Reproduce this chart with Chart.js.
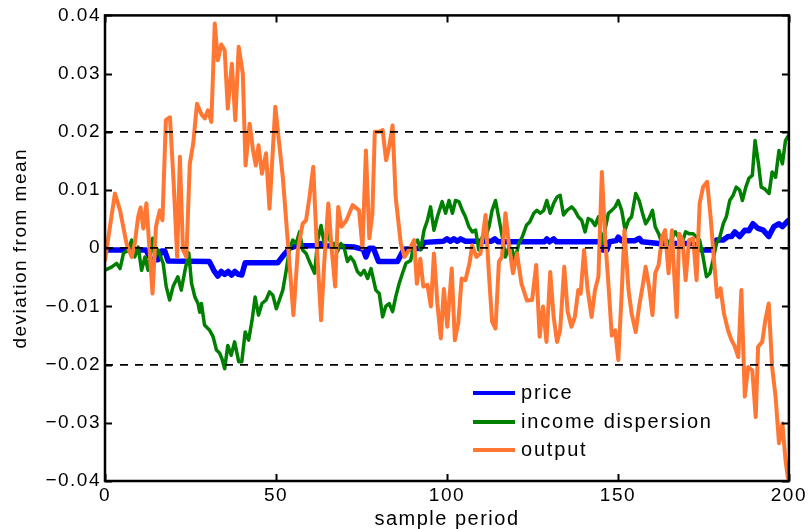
<!DOCTYPE html>
<html>
<head>
<meta charset="utf-8">
<script src="https://cdn.jsdelivr.net/npm/chart.js@4.4.1/dist/chart.umd.min.js"></script>
<style>
  html, body { margin: 0; padding: 0; background: #fff; }
</style>
</head>
<body>
<canvas id="myChart" width="810" height="529"></canvas>
<script>
'use strict';

// ************ data ************

let priceX = [0, 12, 13.5, 15.5, 16.5, 17.5, 18.5, 30.5, 32, 33, 34, 35, 36, 37, 38, 39, 40, 41, 50.5, 52.5, 54, 56, 62, 63, 64, 73, 75.5, 76.3, 77.3, 78.5, 80, 85.5, 87.4, 92.3, 93.4, 99, 100, 101, 102, 103, 104, 105.4, 113, 114, 115, 128.5, 129.2, 130, 131.2, 132, 145, 145.5, 146.8, 147.5, 149.5, 150.1, 151, 155, 156.2, 157, 162, 172, 174.4, 177.8, 178.8, 180.8, 182.2, 183.2, 184.2, 185.6, 187.1, 188.3, 189.5, 191, 192.5, 194.1, 195.6, 197.1, 198.1, 199.7];
let priceY = [-0.0003, -0.0003, -0.002, -0.002, -0.0005, -0.0005, -0.0022, -0.0023, -0.004, -0.0048, -0.004, -0.0045, -0.004, -0.0046, -0.004, -0.0045, -0.0046, -0.0025, -0.0025, -0.001, 0, 0.0004, 0.0004, 0.0008, 0.0004, 0.0002, -0.0002, -0.0015, 0, 0, -0.0023, -0.0023, -0.0002, 0, 0.001, 0.0012, 0.0016, 0.0012, 0.0016, 0.0012, 0.0016, 0.0012, 0.0012, 0.0016, 0.0011, 0.0011, 0.0016, 0.0011, 0.0016, 0.0011, 0.0011, -0.0003, -0.0003, 0.0011, 0.0013, 0.0019, 0.0013, 0.0013, 0.0017, 0.0011, 0.0008, 0.0008, -0.0003, -0.0003, 0.0014, 0.0014, 0.002, 0.002, 0.0028, 0.002, 0.0031, 0.003, 0.0042, 0.0034, 0.0031, 0.002, 0.0037, 0.0042, 0.0037, 0.0047];

let incomeX = [0, 2, 3.4, 4.4, 5.4, 6.8, 7.8, 8.7, 9.7, 10.7, 11.7, 12.6, 13.9, 14.6, 15.5, 17, 17.9, 18.9, 19.9, 21.3, 22.3, 23.4, 24.5, 25.3, 26.3, 27.2, 27.7, 28.2, 29.1, 30.6, 31.6, 32.6, 33.5, 34.2, 35, 35.9, 36.9, 37.9, 39.1, 40, 41, 42, 43, 43.9, 44.9, 45.9, 47.1, 48.1, 49.1, 50.1, 51, 52, 53, 53.9, 54.9, 55.9, 56.9, 57.8, 58.8, 60, 61.3, 62.2, 63.2, 64.1, 65.1, 66.1, 67, 68, 69, 69.9, 70.9, 71.8, 72.8, 73.8, 74.8, 75.8, 76.8, 77.8, 79.2, 80.2, 81.2, 82.1, 83.1, 84.1, 85, 86, 87, 88, 89.4, 90.4, 91.4, 92.3, 93.3, 94.3, 95.2, 96.2, 97.2, 98.6, 99.6, 100.6, 101.6, 102.5, 103.5, 104.5, 105.4, 106.4, 107.4, 108.4, 109.3, 110.3, 111.3, 112.3, 113.2, 114.2, 115.2, 116.2, 117.1, 118.1, 119.1, 119.9, 121, 122, 123.3, 124.2, 125.4, 126.3, 127.3, 128.3, 129.2, 130.2, 131.2, 132.2, 133.1, 134.1, 135.1, 136.5, 137.4, 138.4, 139.4, 140.4, 141.3, 142.3, 143.3, 144.3, 145.3, 146.2, 147.2, 148.2, 149.2, 150.1, 151.1, 152.1, 153.1, 154, 155.2, 156.2, 157.2, 158.1, 159.1, 160.1, 160.9, 161.9, 162.9, 163.8, 164.8, 165.8, 166.8, 167.7, 168.7, 169.8, 170.8, 172, 173, 173.9, 174.9, 175.9, 176.9, 177.8, 178.8, 179.8, 180.8, 181.7, 182.7, 183.7, 184.6, 185.6, 186.4, 187.4, 188.3, 189.3, 190.1, 191.1, 191.9, 192.9, 194.2, 195.1, 196.1, 197.1, 198.1, 199, 199.9];
let incomeY = [-0.0038, -0.0032, -0.0026, -0.0035, -0.0009, -0.0003, 0.0014, -0.0015, 0.0002, -0.0038, -0.0015, -0.0038, 0.0017, -0.0015, -0.0003, -0.0026, -0.0066, -0.0089, -0.0066, -0.0049, -0.0072, -0.0038, -0.0008, -0.006, -0.0084, -0.0095, -0.011, -0.0095, -0.0132, -0.0141, -0.0152, -0.0175, -0.018, -0.019, -0.0207, -0.0167, -0.0184, -0.0161, -0.0195, -0.0195, -0.0144, -0.0158, -0.0124, -0.0084, -0.0115, -0.0095, -0.0089, -0.0075, -0.0081, -0.0104, -0.0089, -0.0072, -0.0038, -0.0003, 0.0014, 0.0008, 0.0028, -0.0003, -0.0009, -0.0026, -0.0043, 0.0014, 0.0039, 0.0008, 0.0025, 0.0008, 0.0008, -0.0006, 0.0008, 0.0002, -0.0023, -0.0015, -0.0023, -0.004, -0.0046, -0.0038, -0.0052, -0.0035, -0.0072, -0.0078, -0.0118, -0.01, -0.0095, -0.0109, -0.0084, -0.0061, -0.0043, -0.0026, -0.0021, 0.0008, 0.0014, -0.0003, 0.0031, 0.0048, 0.0071, 0.0031, 0.0054, 0.008, 0.006, 0.0082, 0.006, 0.0082, 0.008, 0.0065, 0.0054, 0.0037, 0.0028, 0.0031, -0.0003, 0.0019, 0.0019, 0.0037, 0.0065, 0.0082, 0.0051, 0.0019, -0.0015, 0.0002, -0.0003, -0.0021, 0.0008, 0.0019, 0.004, 0.0045, 0.006, 0.0065, 0.006, 0.0065, 0.0082, 0.006, 0.0077, 0.0088, 0.0091, 0.0057, 0.0065, 0.0071, 0.0065, 0.0054, 0.0048, 0.0028, 0.0051, 0.0048, 0.0039, 0.0054, 0.0008, 0.0031, 0.006, 0.0065, 0.0071, 0.0082, 0.0065, 0.0031, 0.0048, 0.0054, 0.0094, 0.0082, 0.006, 0.0042, 0.0051, 0.0065, 0.0037, 0.0025, 0.0008, 0.0019, 0.0008, 0.0017, 0.0028, 0.0019, 0.0008, 0.0028, 0.0025, 0.0025, 0.0019, 0.0014, -0.0015, -0.0049, -0.0043, -0.0021, 0.0008, 0.0019, 0.0042, 0.0054, 0.0082, 0.0091, 0.0105, 0.01, 0.0082, 0.0105, 0.012, 0.0125, 0.0185, 0.0145, 0.0105, 0.0102, 0.0094, 0.0131, 0.0122, 0.0168, 0.0145, 0.0185, 0.0194];

let outputX = [0, 2.9, 4.4, 6.3, 7.8, 8.7, 9.7, 10.4, 11.2, 12.1, 12.9, 13.9, 14.9, 16, 16.8, 17.8, 19, 20.1, 21.1, 21.9, 22.8, 23.8, 24.8, 25.8, 26.9, 28.2, 29.2, 30.1, 31.1, 32.1, 33, 34, 35, 35.9, 37.1, 38.1, 39.1, 40.3, 41.1, 42.3, 43.3, 44.1, 44.9, 45.9, 47.1, 48.1, 49.8, 52, 53.5, 55.1, 56.4, 57.8, 58.8, 59.8, 60.9, 61.9, 63.2, 64.1, 65.3, 66.3, 67.3, 68.2, 69.2, 70.6, 72.4, 74.3, 75.3, 76.3, 77.3, 78.2, 78.9, 80.2, 81.2, 82.2, 83.1, 84.1, 85, 86.5, 87.6, 88.9, 90.4, 91.2, 92.2, 93.1, 94.3, 95.3, 96.2, 97.2, 98.2, 99.1, 100.1, 101.4, 102.3, 103.3, 104.3, 105.4, 106.6, 107.4, 108.6, 109.8, 111.3, 112.2, 113.2, 114.2, 115.2, 116.1, 117.1, 118.1, 119.3, 120.5, 121.8, 123.4, 124.9, 126.1, 127.1, 128.1, 129.1, 130.2, 131.2, 132.2, 133.1, 134.3, 135.3, 136.4, 137.4, 138.4, 139.1, 140.1, 141.1, 142.3, 143.3, 144.3, 145.3, 146.3, 147.2, 148.2, 149.2, 150.1, 151.1, 151.9, 153.1, 154, 155.2, 156.2, 157.2, 158.1, 159.1, 160.1, 160.9, 161.9, 162.9, 163.8, 164.8, 165.8, 166.5, 167.2, 167.9, 168.9, 169.8, 170.8, 172, 173, 173.9, 174.9, 176.1, 177.1, 178.1, 179, 180, 181, 182.2, 183.2, 184.2, 185.2, 186.1, 187.1, 188.1, 189.3, 190.3, 191, 192.2, 193.1, 194.1, 195.1, 196.1, 197.1, 198.1, 199, 199.7];
let outputY = [-0.002, 0.0094, 0.0065, 0.0008, -0.0015, 0.0008, 0.0054, 0.007, 0.0034, 0.0077, 0.0008, -0.0078, 0.0037, 0.0065, 0.0048, 0.022, 0.0225, 0.011, -0.0015, 0.0157, -0.0003, -0.0015, 0.0145, 0.018, 0.0248, 0.023, 0.0223, 0.0237, 0.0217, 0.0386, 0.0323, 0.035, 0.034, 0.024, 0.0317, 0.022, 0.0346, 0.03, 0.0142, 0.0214, 0.0168, 0.0142, 0.0177, 0.0128, 0.0163, 0.0068, 0.0243, 0.0122, 0.0008, -0.0115, -0.0003, 0.0042, 0.0048, 0.0088, 0.014, 0.0008, -0.0124, -0.0026, 0.0077, -0.0003, -0.0066, 0.0071, 0.0037, 0.0048, 0.0074, 0.0065, 0, 0.0168, 0.0017, 0.006, 0.02, 0.02, 0.0203, 0.0151, 0.0174, 0.0211, 0.0088, 0.0008, -0.0015, -0.0003, 0.0014, -0.0061, -0.0018, -0.0066, -0.0063, -0.01, -0.0009, -0.0095, -0.0155, -0.007, -0.0135, -0.0035, -0.0158, -0.0129, -0.0052, -0.0055, -0.0026, 0.0005, -0.0015, -0.0009, 0.0057, -0.0038, -0.0126, -0.0138, -0.0023, -0.0015, 0.006, 0.0008, -0.0043, -0.0009, -0.0061, -0.009, -0.0089, -0.0029, -0.0152, -0.01, -0.0161, -0.0041, -0.0118, -0.0161, -0.0141, -0.0032, -0.0109, -0.0135, -0.0118, -0.0072, -0.0078, -0.0003, -0.0069, -0.0118, -0.0072, -0.0049, 0.0131, 0.0014, -0.006, -0.015, -0.0141, -0.0192, -0.0078, 0.0031, -0.0072, -0.0112, -0.0144, -0.01, -0.0066, -0.0032, -0.0066, -0.0115, -0.0043, -0.0029, 0.0019, 0.0031, -0.0043, 0.0031, -0.0049, -0.0118, 0.0025, 0.0014, -0.0055, 0.0014, 0.0017, -0.0055, 0.0077, 0.0105, 0.0114, 0.0054, -0.0021, -0.0084, -0.0069, -0.0112, -0.0141, -0.0158, -0.0169, -0.0187, -0.0072, -0.0255, -0.0204, -0.021, -0.029, -0.0169, -0.0161, -0.0124, -0.0095, -0.0204, -0.0255, -0.0335, -0.0301, -0.0364, -0.0395];

let seriesNames = ['price', 'income dispersion', 'output'];
let seriesColors = ['#0000ff', '#008000', '#ff7733'];
let xTicks = [0, 50, 100, 150, 200];
let yTicks = [-0.04, -0.03, -0.02, -0.01, 0, 0.01, 0.02, 0.03, 0.04];
let dashedAt = [-0.02, 0, 0.02];

const FONT = '"Liberation Sans", Arial, sans-serif';
const SPACING = '1.5px';

function toPoints(xs, ys) {
  return xs.map((x, i) => ({ x: x, y: ys[i] }));
}

function isDashed(v) {
  return dashedAt.some(d => Math.abs(d - v) < 1e-9);
}

function yLabel(v) {
  let r = Math.round(v * 100) / 100;
  if (r === 0) return '0';
  let s = Math.abs(r).toFixed(2);
  return r < 0 ? '\u2212' + s : s;
}

// ************ plugins ************

// the reference text is drawn wide, so spread the letters a bit
const wideText = {
  id: 'wideText',
  beforeLayout(chart) { chart.ctx.letterSpacing = SPACING; },
  beforeDraw(chart) { chart.ctx.letterSpacing = SPACING; }
};

// matlab style box with inward ticks, plus legend inside the plot
const boxAndLegend = {
  id: 'boxAndLegend',
  afterDraw(chart) {
    const ctx = chart.ctx;
    const a = chart.chartArea;
    const xs = chart.scales.x;
    const ys = chart.scales.y;
    ctx.save();
    ctx.strokeStyle = '#000';
    ctx.lineWidth = 2;
    ctx.beginPath();
    yTicks.forEach(v => {
      let p = Math.round(ys.getPixelForValue(v)) + 0.5;
      ctx.moveTo(a.left, p); ctx.lineTo(a.left + 7, p);
      ctx.moveTo(a.right, p); ctx.lineTo(a.right - 7, p);
    });
    xTicks.forEach(v => {
      let p = Math.round(xs.getPixelForValue(v)) + 0.5;
      ctx.moveTo(p, a.bottom); ctx.lineTo(p, a.bottom - 7);
      ctx.moveTo(p, a.top); ctx.lineTo(p, a.top + 7);
    });
    ctx.stroke();
    ctx.lineWidth = 2.5;
    ctx.strokeRect(a.left, a.top, a.right - a.left, a.bottom - a.top);

    // legend
    ctx.font = '20px ' + FONT;
    ctx.letterSpacing = '1.8px';
    ctx.textBaseline = 'middle';
    ctx.fillStyle = '#000';
    let rows = [393, 422, 450];
    chart.data.datasets.forEach((ds, i) => {
      ctx.strokeStyle = ds.borderColor;
      ctx.lineWidth = 4;
      ctx.beginPath();
      ctx.moveTo(473, rows[i]);
      ctx.lineTo(515, rows[i]);
      ctx.stroke();
      ctx.fillText(ds.label, 521, rows[i]);
    });
    ctx.restore();
  }
};

// ************ chart ************

const ctx = document.getElementById('myChart').getContext('2d');

const myChart = new Chart(ctx, {
  type: 'line',
  data: {
    datasets: [
      {
        label: seriesNames[0],
        data: toPoints(priceX, priceY),
        borderColor: seriesColors[0],
        borderWidth: 5.5,
        order: 3
      },
      {
        label: seriesNames[1],
        data: toPoints(incomeX, incomeY),
        borderColor: seriesColors[1],
        borderWidth: 3.5,
        order: 2
      },
      {
        label: seriesNames[2],
        data: toPoints(outputX, outputY),
        borderColor: seriesColors[2],
        borderWidth: 4,
        order: 1
      }
    ]
  },
  options: {
    responsive: false,
    animation: false,
    events: [],
    layout: { padding: { top: 15, right: 19, left: 0, bottom: 0 } },
    elements: {
      point: { radius: 0 },
      line: { tension: 0, borderJoinStyle: 'round', borderCapStyle: 'round' }
    },
    plugins: {
      legend: { display: false },
      tooltip: { enabled: false }
    },
    scales: {
      x: {
        type: 'linear',
        min: 0,
        max: 200,
        afterBuildTicks: scale => { scale.ticks = xTicks.map(v => ({ value: v })); },
        afterFit: scale => { scale.height = 48; },
        grid: { display: false, drawTicks: false },
        border: { display: false },
        ticks: {
          color: '#000',
          padding: 3,
          maxRotation: 0,
          font: { family: FONT, size: 19 }
        },
        title: {
          display: true,
          text: 'sample period',
          color: '#000',
          padding: 0,
          font: { family: FONT, size: 20, lineHeight: 1 }
        }
      },
      y: {
        min: -0.04,
        max: 0.04,
        afterBuildTicks: scale => { scale.ticks = yTicks.map(v => ({ value: v })); },
        afterFit: scale => { scale.width = 105; },
        grid: {
          z: 1,
          drawTicks: false,
          lineWidth: 1.8,
          color: c => isDashed(c.tick.value) ? '#000' : 'rgba(0,0,0,0)'
        },
        border: { display: false, dash: [8, 7] },
        ticks: {
          color: '#000',
          padding: 4,
          font: { family: FONT, size: 19 },
          callback: v => yLabel(v)
        },
        title: {
          display: true,
          text: 'deviation from mean',
          color: '#000',
          padding: { top: 11, bottom: 0 },
          font: { family: FONT, size: 19, lineHeight: 1 }
        }
      }
    }
  },
  plugins: [wideText, boxAndLegend]
});
</script>
</body>
</html>
